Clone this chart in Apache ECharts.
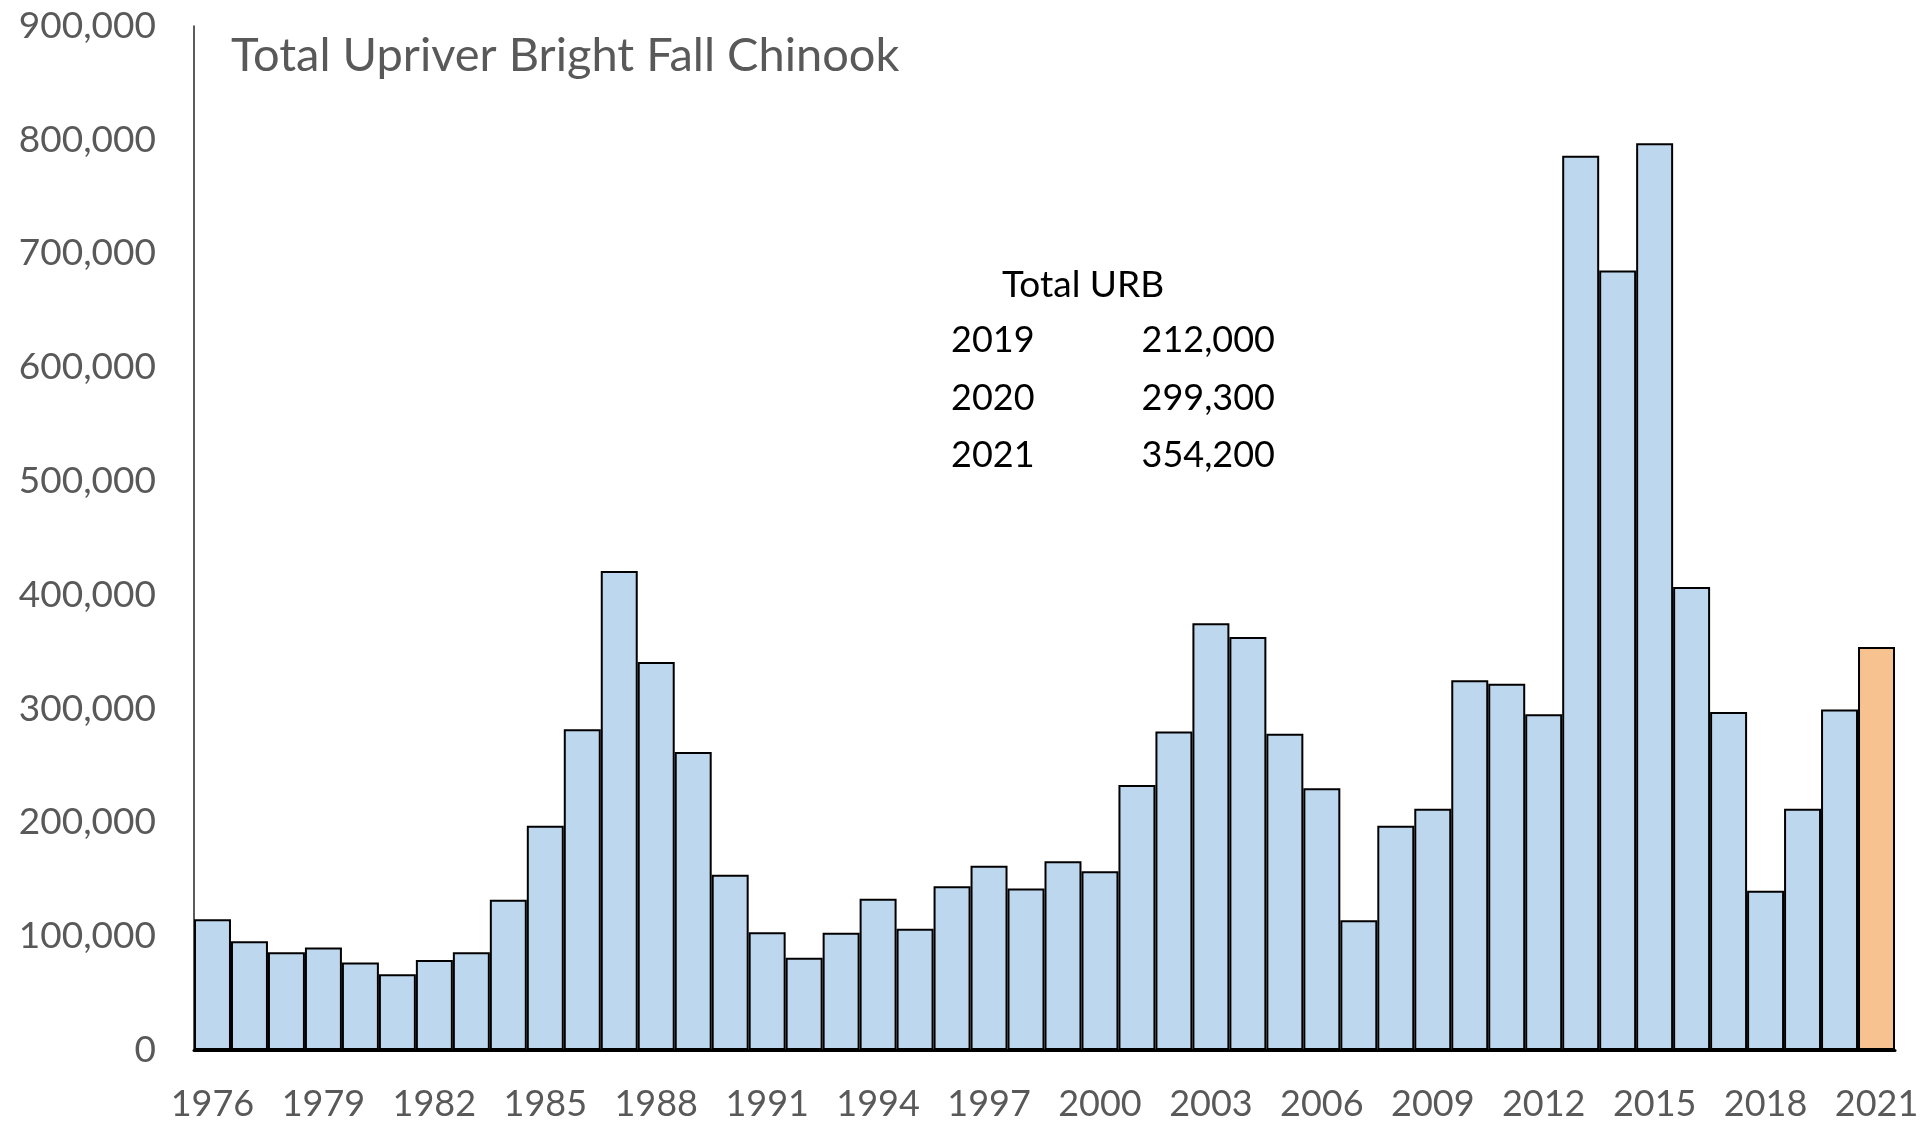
<!DOCTYPE html>
<html>
<head>
<meta charset="utf-8">
<title>Total Upriver Bright Fall Chinook</title>
<script src="https://cdn.jsdelivr.net/npm/echarts@6/dist/echarts.min.js"></script>
<style>
    html, body { margin: 0; padding: 0; background: #fff; }
    #main { width: 1932px; height: 1126px; }
</style>
</head>
<body>
<div id="main"></div>
<script>
    // 年份
    var years = ['1976', '1977', '1978', '1979', '1980', '1981', '1982', '1983', '1984', '1985',
        '1986', '1987', '1988', '1989', '1990', '1991', '1992', '1993', '1994', '1995',
        '1996', '1997', '1998', '1999', '2000', '2001', '2002', '2003', '2004', '2005',
        '2006', '2007', '2008', '2009', '2010', '2011', '2012', '2013', '2014', '2015',
        '2016', '2017', '2018', '2019', '2020', '2021'];

    // Total URB
    var totals = [115000, 95500, 86000, 90000, 77000, 66500, 79000, 86000, 132000, 197000,
        282000, 421000, 341000, 262000, 154000, 103500, 81000, 103000, 133000, 106500,
        144000, 162000, 142000, 166000, 157000, 233000, 280000, 375000, 363000, 278000,
        230000, 114000, 197000, 212000, 325000, 322000, 295000, 786000, 685000, 797000,
        407000, 297000, 140000, 212000, 299300, 354200];

    // 右上角的小表
    var noteYears = ['2019', '2020', '2021'];
    var noteTotals = ['212,000', '299,300', '354,200'];

    var yTicks = [0, 100000, 200000, 300000, 400000, 500000, 600000, 700000, 800000, 900000];

    var font = 'Lato';
    var grey = '#595959';

    var barData = [];
    for (var i = 0; i < totals.length; i++) {
        if (years[i] == '2021') {
            barData.push({ value: totals[i], itemStyle: { color: '#F7C290' } });
        } else {
            barData.push(totals[i]);
        }
    };

    // 表格文字
    var graphics = [{
        type: 'text',
        left: 1002,
        top: 267,
        style: { text: 'Total URB', font: '37px ' + font, fill: '#000' }
    }];
    var rowTop = [322, 380, 437];
    for (var j = 0; j < noteYears.length; j++) {
        graphics.push({
            type: 'text',
            left: 951,
            top: rowTop[j],
            style: { text: noteYears[j], font: '36px ' + font, fill: '#000' }
        });
        graphics.push({
            type: 'text',
            right: 1932 - 1275,
            top: rowTop[j],
            style: { text: noteTotals[j], font: '36px ' + font, fill: '#000', align: 'right' }
        });
    };

    var chart = echarts.init(document.getElementById('main'));
    var option = {
        animation: false,
        backgroundColor: '#fff',
        title: {
            text: 'Total Upriver Bright Fall Chinook',
            left: 231,
            top: 32,
            padding: 0,
            textStyle: {
                fontFamily: font,
                fontWeight: 'normal',
                fontSize: 47,
                color: grey
            }
        },
        grid: {
            top: 26,
            bottom: 76,
            left: 194,
            right: 37
        },
        xAxis: {
            type: 'category',
            data: years,
            axisLine: { show: true, lineStyle: { color: '#000', width: 3 } },
            axisTick: { show: false },
            axisLabel: {
                interval: 2,
                margin: 36,
                fontFamily: font,
                fontSize: 36,
                color: grey
            }
        },
        yAxis: {
            type: 'value',
            min: yTicks[0],
            max: yTicks[yTicks.length - 1],
            interval: 100000,
            axisLine: { show: true, lineStyle: { color: '#262626', width: 1.5 } },
            axisTick: { show: false },
            splitLine: { show: false },
            axisLabel: {
                margin: 38,
                fontFamily: font,
                fontSize: 37,
                color: grey,
                formatter: function (v) {
                    return v.toLocaleString('en-US');
                }
            }
        },
        series: [{
            type: 'bar',
            data: barData,
            barCategoryGap: '0%',
            itemStyle: {
                color: '#BDD7EE',
                borderColor: '#000',
                borderWidth: 2
            }
        }],
        graphic: graphics
    };
    chart.setOption(option);
</script>
</body>
</html>
